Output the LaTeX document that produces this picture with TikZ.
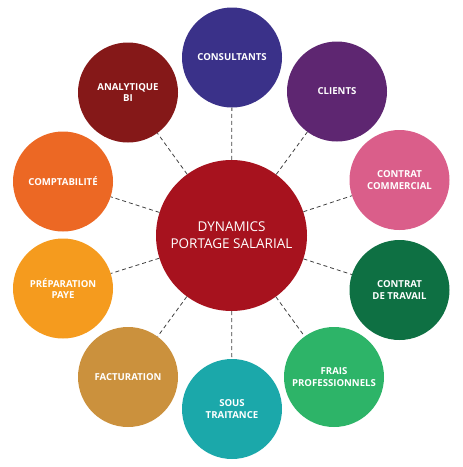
\documentclass[tikz,border=0pt]{standalone}
\usepackage{fontspec}
\setmainfont{Open Sans}
\usepackage{tikz}

\definecolor{hubred}{HTML}{A7121E}
\definecolor{consultantsc}{HTML}{3A3189}
\definecolor{clientsc}{HTML}{5E2671}
\definecolor{commercialc}{HTML}{DA5E8A}
\definecolor{travailc}{HTML}{0E7043}
\definecolor{fraisc}{HTML}{2DB468}
\definecolor{soustraitc}{HTML}{1BA8AA}
\definecolor{facturationc}{HTML}{CB913D}
\definecolor{payec}{HTML}{F59B1E}
\definecolor{comptac}{HTML}{EC6824}
\definecolor{analytiquec}{HTML}{851818}

\begin{document}
\begin{tikzpicture}[x=1pt, y=-1pt,
	hub/.style={circle, fill=hubred, minimum size=151pt, inner sep=0pt, align=center, text=white, font=\fontsize{13.5}{17}\selectfont},
	petal/.style={circle, minimum size=100pt, inner sep=0pt, align=center, text=white, font=\bfseries\fontsize{9.6}{11.7}\selectfont},
	link/.style={draw=black!75, line width=0.8pt, dash pattern=on 4pt off 3pt}]
	\useasboundingbox (0,0) rectangle (463,467);
	\node[hub] (hub) at (231.5,235.5) {DYNAMICS\\PORTAGE SALARIAL};
	\node[petal, fill=consultantsc] (consultants) at (232,57.5) {CONSULTANTS};
	\node[petal, fill=clientsc] (clients) at (337,91.5) {CLIENTS};
	\node[petal, fill=commercialc] (commercial) at (399.5,180) {CONTRAT\\COMMERCIAL};
	\node[petal, fill=travailc] (travail) at (399.5,290) {CONTRAT\\DE TRAVAIL};
	\node[petal, fill=fraisc] (frais) at (334,377) {FRAIS\\PROFESSIONNELS};
	\node[petal, fill=soustraitc] (soustrait) at (232,409) {SOUS\\TRAITANCE};
	\node[petal, fill=facturationc] (facturation) at (128,377) {FACTURATION};
	\node[petal, fill=payec] (paye) at (63,288.5) {PRÉPARATION\\PAYE};
	\node[petal, fill=comptac] (compta) at (63,181.5) {COMPTABILITÉ};
	\node[petal, fill=analytiquec] (analytique) at (128,92.5) {ANALYTIQUE\\BI};
	%% dashed spokes
	\foreach \n in {consultants,clients,commercial,travail,frais,soustrait,facturation,paye,compta,analytique}
		\draw[link] (hub) -- (\n);
\end{tikzpicture}
\end{document}
